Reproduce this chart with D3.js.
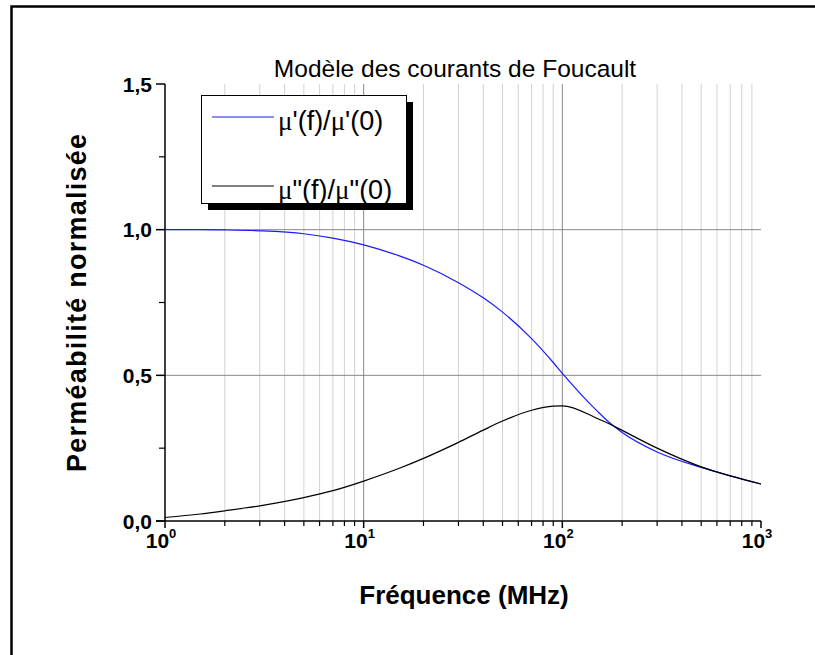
<!DOCTYPE html>
<html><head><meta charset="utf-8">
<script src="https://cdn.jsdelivr.net/npm/d3@7"></script>
<style>body{margin:0;background:#fff;overflow:hidden}svg{display:block}</style>
</head><body>
<script>
const freq = [1, 1.5, 2, 3, 5, 7, 10, 15, 20, 30, 40, 50, 70, 90, 100, 150, 173, 200, 300, 500, 700, 1000];
const muReal = [1.000, 1.000, 0.999, 0.996, 0.986, 0.971, 0.948, 0.911, 0.878, 0.818, 0.766, 0.717, 0.626, 0.544, 0.507, 0.377, 0.337, 0.304, 0.237, 0.184, 0.155, 0.127];
const muImag = [0.012, 0.024, 0.035, 0.052, 0.080, 0.104, 0.137, 0.180, 0.215, 0.270, 0.312, 0.343, 0.380, 0.394, 0.395, 0.352, 0.333, 0.311, 0.250, 0.186, 0.155, 0.127];
const xTicks = [1, 10, 100, 1000];
const xTickExp = ["0", "1", "2", "3"];
const yTicks = [0, 0.5, 1.0, 1.5];
const yTickLabels = ["0,0", "0,5", "1,0", "1,5"];
const yMinor = [0.25, 0.75, 1.25];
const seriesNames = ["'(f)/", "'(0)", "\"(f)/", "\"(0)"];

const W = 815, H = 655;
const L = 165, R = 761, T = 84, B = 521;
const FONT = "Liberation Sans, Arial, sans-serif";
const svg = d3.select("body").append("svg").attr("width", W).attr("height", H);
svg.append("rect").attr("width", W).attr("height", H).attr("fill", "#fff");
// outer frame: only the top and left edges fall inside the picture
svg.append("path").attr("d", `M11.5,${H + 5} L11.5,6.5 L${W + 5},6.5`)
  .attr("fill", "none").attr("stroke", "#000").attr("stroke-width", 2.5);

const x = d3.scaleLog().domain([1, 1000]).range([L, R]);
const y = d3.scaleLinear().domain([0, 1.5]).range([B, T]);

const minorX = [];
for (let d = 1; d < 1000; d *= 10) for (let k = 2; k <= 9; k++) minorX.push(d * k);

const grid = svg.append("g");
grid.selectAll(".gmin").data(minorX).join("line")
  .attr("x1", d => x(d)).attr("x2", d => x(d)).attr("y1", T).attr("y2", B)
  .attr("stroke", "#d2d2d2").attr("stroke-width", 1);
grid.selectAll(".gmaj").data([10, 100]).join("line")
  .attr("x1", d => x(d)).attr("x2", d => x(d)).attr("y1", T).attr("y2", B)
  .attr("stroke", "#888").attr("stroke-width", 1);
grid.selectAll(".gy").data([0.5, 1.0]).join("line")
  .attr("x1", L).attr("x2", R).attr("y1", d => y(d)).attr("y2", d => y(d))
  .attr("stroke", "#888").attr("stroke-width", 1);

// axes
const xAxis = svg.append("g").attr("transform", `translate(0,${B})`);
xAxis.append("line").attr("x1", L - 9).attr("x2", R).attr("stroke", "#000").attr("stroke-width", 1.5);
xAxis.selectAll(".tmaj").data(xTicks).join("line")
  .attr("x1", d => x(d)).attr("x2", d => x(d)).attr("y1", 0).attr("y2", 7)
  .attr("stroke", "#000").attr("stroke-width", 1.5);
xAxis.selectAll(".tmin").data(minorX).join("line")
  .attr("x1", d => x(d)).attr("x2", d => x(d)).attr("y1", 0).attr("y2", 5)
  .attr("stroke", "#000").attr("stroke-width", 1.2);
const xl = xAxis.selectAll(".xl").data(xTicks).join("text")
  .attr("x", d => x(d) - 4).attr("y", 27)
  .attr("text-anchor", "middle")
  .attr("font-family", FONT).attr("font-weight", "bold").attr("font-size", 21);
xl.append("tspan").text("10");
xl.append("tspan").attr("dy", -10).attr("font-size", 13).text((d, i) => xTickExp[i]);

const yAxis = svg.append("g").attr("transform", `translate(${L},0)`);
yAxis.append("line").attr("y1", T).attr("y2", B + 1).attr("stroke", "#000").attr("stroke-width", 1.5);
yAxis.selectAll(".ymaj").data(yTicks).join("line")
  .attr("x1", -9).attr("x2", 0).attr("y1", d => y(d)).attr("y2", d => y(d))
  .attr("stroke", "#000").attr("stroke-width", 1.5);
yAxis.selectAll(".ymin").data(yMinor).join("line")
  .attr("x1", -6).attr("x2", 0).attr("y1", d => y(d)).attr("y2", d => y(d))
  .attr("stroke", "#000").attr("stroke-width", 1.2);
yAxis.selectAll(".yl").data(yTicks).join("text")
  .attr("x", -13).attr("y", d => y(d) + 7.5)
  .attr("text-anchor", "end")
  .attr("font-family", FONT).attr("font-weight", "bold").attr("font-size", 21)
  .text((d, i) => yTickLabels[i]);

// curves
const line = (vals) => d3.line().x((d, i) => x(freq[i])).y(d => y(d)).curve(d3.curveMonotoneX)(vals);
svg.append("path").attr("d", line(muReal)).attr("fill", "none").attr("stroke", "#1a1aff").attr("stroke-width", 1.2);
svg.append("path").attr("d", line(muImag)).attr("fill", "none").attr("stroke", "#000").attr("stroke-width", 1.2);

// titles
svg.append("text").attr("x", 455).attr("y", 77).attr("text-anchor", "middle")
  .attr("font-family", FONT).attr("font-size", 24.5)
  .text("Modèle des courants de Foucault");
svg.append("text").attr("x", 464).attr("y", 604).attr("text-anchor", "middle")
  .attr("font-family", FONT).attr("font-weight", "bold").attr("font-size", 26)
  .text("Fréquence (MHz)");
svg.append("text").attr("transform", "translate(86,303) rotate(-90)").attr("text-anchor", "middle")
  .attr("font-family", FONT).attr("font-weight", "bold").attr("font-size", 27)
  .attr("textLength", 338).attr("lengthAdjust", "spacing")
  .text("Perméabilité normalisée");

// legend
const lg = svg.append("g");
lg.append("rect").attr("x", 208).attr("y", 102).attr("width", 205).attr("height", 108).attr("fill", "#000");
lg.append("rect").attr("x", 201.5).attr("y", 95.5).attr("width", 205).attr("height", 108)
  .attr("fill", "#fff").attr("stroke", "#000").attr("stroke-width", 1);
const items = [{c: "#1a1aff", y: 117, a: seriesNames[0], b: seriesNames[1]}, {c: "#000", y: 186, a: seriesNames[2], b: seriesNames[3]}];
items.forEach(it => {
  lg.append("line").attr("x1", 212).attr("x2", 274).attr("y1", it.y).attr("y2", it.y).attr("stroke", it.c).attr("stroke-width", 1.2);
  const t = lg.append("text").attr("x", 278).attr("y", it.y + 13)
    .attr("font-family", FONT).attr("font-size", 27);
  t.append("tspan").attr("font-family", "Liberation Serif, serif").text("μ");
  t.append("tspan").text(it.a);
  t.append("tspan").attr("font-family", "Liberation Serif, serif").text("μ");
  t.append("tspan").text(it.b);
});
</script>
</body></html>
